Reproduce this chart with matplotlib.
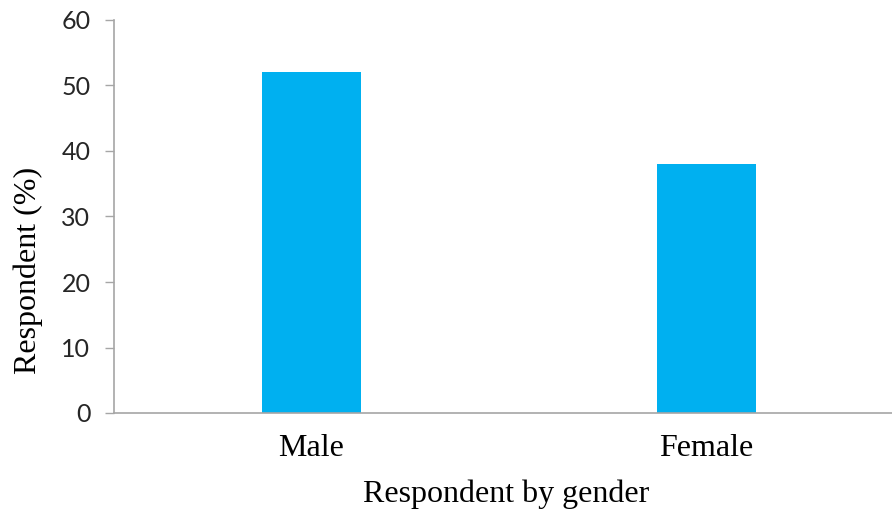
import matplotlib.pyplot as plt

# respondent share by gender, in percent
genders = ["Male", "Female"]
shares = [52, 38]

bar_color = "#00B0F0"
axis_color = "#A6A6A6"
serif = "Liberation Serif"

fig = plt.figure(figsize=(8.92, 5.18), dpi=100)
ax = fig.add_axes([114 / 892, 105 / 518, (892 - 114) / 892, (413 - 20) / 518])

ax.bar(range(len(genders)), shares, width=0.25, color=bar_color, zorder=2)

ax.set_xlim(-0.5, 1.47)
ax.set_ylim(0, 60)
ax.set_yticks(range(0, 61, 10))
ax.set_xticks(range(len(genders)))
ax.set_xticklabels(genders, family=serif, fontsize=23)

for lbl in ax.get_yticklabels():
    lbl.set_family("Lato")
    lbl.set_fontsize(18)
    lbl.set_color("#262626")

ax.tick_params(axis="y", length=6.5, width=1, color=axis_color, pad=10.5)
ax.tick_params(axis="x", length=0, pad=15)

for side in ["top", "right"]:
    ax.spines[side].set_visible(False)
for side in ["left", "bottom"]:
    ax.spines[side].set_color(axis_color)
    ax.spines[side].set_linewidth(1.2)

# axis titles placed in figure coordinates
fig.text(506 / 892, 1 - 502 / 518, "Respondent by gender", family=serif,
         fontsize=23, ha="center", va="baseline")
fig.text(28 / 892, 1 - 270 / 518, "Respondent (%)", family=serif,
         fontsize=23, rotation=90, ha="center", va="center")

fig.savefig("out.png", dpi=100)
